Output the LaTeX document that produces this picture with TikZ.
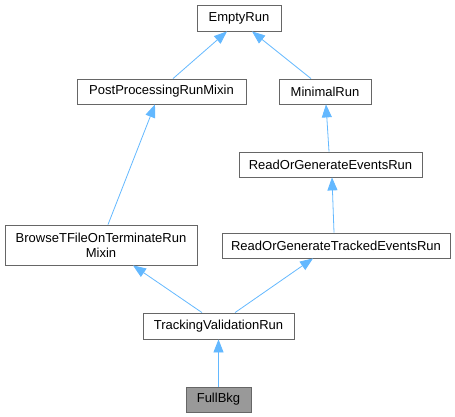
\documentclass[tikz,border=0pt]{standalone}
\usepackage{fontspec}
\setmainfont{Liberation Sans}
\usetikzlibrary{arrows.meta,positioning}
\definecolor{edgeblue}{HTML}{63B8FF}
\definecolor{boxgray}{HTML}{666666}
\definecolor{nodegray}{HTML}{999999}

\begin{document}
\begin{tikzpicture}[
				x=1pt, y=-1pt,
				arrow/.style={draw=edgeblue, line width=0.8pt, {Triangle[length=13pt, width=10pt]}-},
				block/.style={draw=boxgray, line width=0.8pt, inner sep=0pt, minimum height=25pt, align=center, font=\fontsize{13}{15}\selectfont},
				current/.style={block, fill=nodegray},
			]
				\useasboundingbox (0,0) rectangle (455,417);

				\node[block, minimum width=84pt, minimum height=26pt] (empty) at (239,18) {EmptyRun};
				\node[block, minimum width=169pt] (post) at (161.5,91.5) {PostProcessingRunMixin};
				\node[block, minimum width=92pt] (minimal) at (325,91.5) {MinimalRun};
				\node[block, minimum width=183pt] (readgen) at (330.5,164.5) {ReadOrGenerateEventsRun};
				\node[block, minimum width=192pt, minimum height=40pt] (browse) at (101,245) {BrowseTFileOnTerminateRun\\Mixin};
				\node[block, minimum width=228pt] (tracked) at (336,245.5) {ReadOrGenerateTrackedEventsRun};
				\node[block, minimum width=151pt, minimum height=26pt] (validation) at (218.5,326) {TrackingValidationRun};
				\node[current, minimum width=65pt] (fullbkg) at (218.5,399.5) {FullBkg};

				\draw[arrow] ([xshift=-12pt]empty.south) -- ([xshift=11.5pt]post.north);
				\draw[arrow] ([xshift=13pt]empty.south) -- ([xshift=-14pt]minimal.north);
				\draw[arrow] ([xshift=-6.5pt]post.south) -- ([xshift=7pt]browse.north);
				\draw[arrow] ([xshift=1pt]minimal.south) -- ([xshift=-1.5pt]readgen.north);
				\draw[arrow] ([xshift=1.5pt]readgen.south) -- ([xshift=-2pt]tracked.north);
				\draw[arrow] ([xshift=32pt]browse.south) -- ([xshift=-16.5pt]validation.north);
				\draw[arrow] ([xshift=-23pt]tracked.south) -- ([xshift=16.5pt]validation.north);
				\draw[arrow] (validation.south) -- (fullbkg.north);
			\end{tikzpicture}
\end{document}
